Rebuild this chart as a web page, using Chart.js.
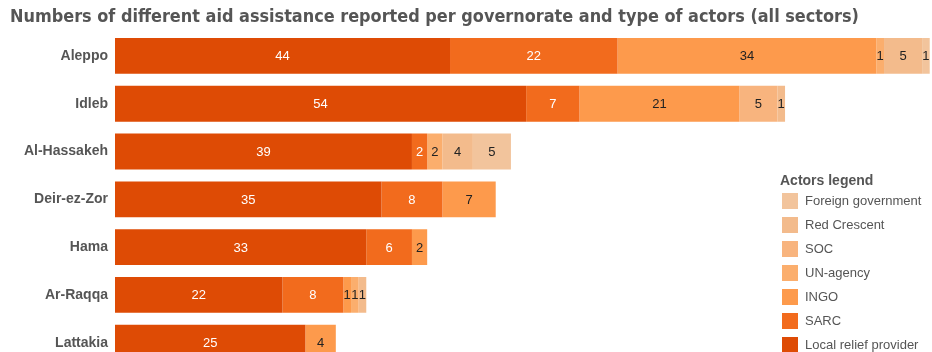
<!DOCTYPE html>
<html>
<head>
<meta charset="utf-8">
<script src="https://cdn.jsdelivr.net/npm/chart.js@4"></script>
<style>
  html, body { margin: 0; padding: 0; background: #fff; overflow: hidden; }
  #wrap { position: relative; width: 932px; height: 382px; }
</style>
</head>
<body>
<div id="wrap"><canvas id="chart"></canvas></div>
<script>
// governorates (top to bottom)
const governorates = ['Aleppo', 'Idleb', 'Al-Hassakeh', 'Deir-ez-Zor', 'Hama', 'Ar-Raqqa', 'Lattakia'];

// actor types, stacked left to right
const actors = ['Local relief provider', 'SARC', 'INGO', 'UN-agency', 'SOC', 'Red Crescent', 'Foreign government'];
const actorColors = ['#DE4B05', '#F26B1D', '#FD9A4C', '#FBAE6D', '#F8B47E', '#F3BB8C', '#F2C49C'];

// counts per governorate
const localRelief = [44, 54, 39, 35, 33, 22, 25];
const sarc        = [22,  7,  2,  8,  6,  8,  0];
const ingo        = [34, 21,  0,  7,  2,  1,  4];
const unAgency    = [ 1,  0,  2,  0,  0,  1,  0];
const soc         = [ 0,  5,  0,  0,  0,  0,  0];
const redCrescent = [ 5,  1,  4,  0,  0,  1,  0];
const foreignGov  = [ 1,  0,  5,  0,  0,  0,  0];

const seriesValues = [localRelief, sarc, ingo, unAgency, soc, redCrescent, foreignGov];
const darkLabelSeries = ['Local relief provider', 'SARC'];

const textGray = '#555555';
const titleText = 'Numbers of different aid assistance reported per governorate and type of actors (all sectors)';

// values written in the middle of each segment
const segmentLabels = {
    id: 'segmentLabels',
    afterDatasetsDraw(chart) {
        const ctx = chart.ctx;
        ctx.save();
        ctx.font = '13px "Liberation Sans", Arial, sans-serif';
        ctx.textAlign = 'center';
        ctx.textBaseline = 'middle';
        chart.data.datasets.forEach((ds, i) => {
            const meta = chart.getDatasetMeta(i);
            meta.data.forEach((bar, j) => {
                const v = ds.data[j];
                if (!v) return;
                ctx.fillStyle = darkLabelSeries.includes(ds.label) ? '#ffffff' : '#222222';
                ctx.fillText(String(v), (bar.x + bar.base) / 2, bar.y + 1);
            });
        });
        ctx.restore();
    }
};

// title and legend box in the lower right corner
const decorations = {
    id: 'decorations',
    afterDraw(chart) {
        const ctx = chart.ctx;
        ctx.save();
        ctx.fillStyle = textGray;
        ctx.textBaseline = 'middle';
        ctx.textAlign = 'left';
        // size the title so it spans the same width as the original
        ctx.font = 'bold 16px "DejaVu Sans Condensed", "DejaVu Sans", sans-serif';
        let size = 16 * 848 / ctx.measureText(titleText).width;
        ctx.font = 'bold ' + size.toFixed(1) + 'px "DejaVu Sans Condensed", "DejaVu Sans", sans-serif';
        ctx.fillText(titleText, 10, 17);

        ctx.font = 'bold 14px "Liberation Sans", Arial, sans-serif';
        ctx.fillText('Actors legend', 780, 181);
        ctx.font = '13px "Liberation Sans", Arial, sans-serif';
        const items = chart.data.datasets.slice().reverse();
        items.forEach((ds, k) => {
            const y = 201 + k * 24;
            ctx.fillStyle = ds.backgroundColor;
            ctx.fillRect(782, y - 8, 16, 16);
            ctx.fillStyle = textGray;
            ctx.fillText(ds.label, 805, y);
        });
        ctx.restore();
    }
};

new Chart(document.getElementById('chart'), {
    type: 'bar',
    data: {
        labels: governorates,
        datasets: actors.map((name, i) => ({
            label: name,
            data: seriesValues[i],
            backgroundColor: actorColors[i],
            borderWidth: 0,
            categoryPercentage: 0.75,
            barPercentage: 1
        }))
    },
    options: {
        indexAxis: 'y',
        responsive: true,
        maintainAspectRatio: false,
        animation: false,
        layout: { padding: { top: 32, right: 0, bottom: 0, left: 0 } },
        plugins: {
            legend: { display: false },
            tooltip: { enabled: false },
            title: { display: false }
        },
        scales: {
            x: {
                stacked: true,
                display: false,
                min: 0,
                max: 107.3
            },
            y: {
                stacked: true,
                grid: { display: false, drawTicks: false },
                border: { display: false },
                ticks: {
                    color: textGray,
                    padding: 7,
                    font: { family: '"Liberation Sans", Arial, sans-serif', size: 14, weight: 'bold' }
                },
                afterFit(scale) { scale.width = 115; }
            }
        }
    },
    plugins: [segmentLabels, decorations]
});
</script>
</body>
</html>
